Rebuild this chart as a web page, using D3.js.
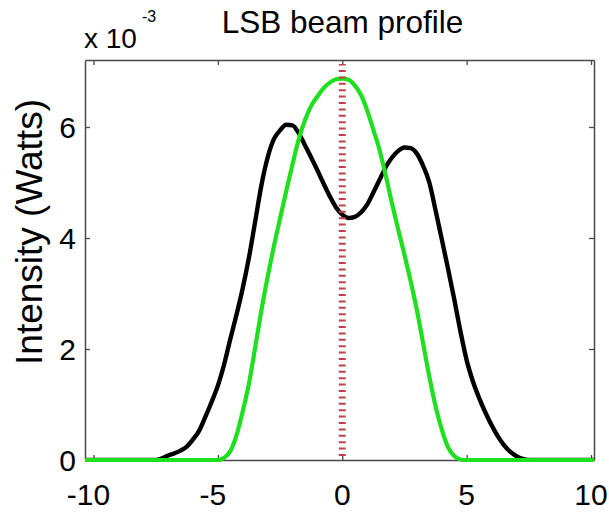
<!DOCTYPE html>
<html>
<head>
<meta charset="utf-8">
<script src="https://cdn.jsdelivr.net/npm/d3@7"></script>
<style>
  html, body { margin: 0; padding: 0; background: #fff; }
  svg { display: block; font-family: "Liberation Sans", Arial, sans-serif; }
</style>
</head>
<body>
<svg id="chart" width="609" height="512"></svg>
<script>
// Beam position samples (shared by both profiles)
const positions = [
  -10.5, -7.75,
  -7.5, -7.25, -7.0, -6.75, -6.5, -6.25, -6.0, -5.75, -5.5, -5.25,
  -5.0, -4.75, -4.5, -4.25, -4.0, -3.75, -3.5, -3.25, -3.0, -2.75,
  -2.5, -2.25, -2.0, -1.75, -1.5, -1.25, -1.0, -0.75, -0.5, -0.25,
  0.0, 0.25, 0.5, 0.75, 1.0, 1.25, 1.5, 1.75, 2.0, 2.25,
  2.5, 2.75, 3.0, 3.25, 3.5, 3.75, 4.0, 4.25, 4.5, 4.75,
  5.0, 5.25, 5.5, 5.75, 6.0, 6.25, 6.5, 6.75, 7.0, 7.25, 7.5,
  7.75, 10.5
];

// Measured profile, intensity in units of 1e-3 W
const measuredProfile = [
  0, 0,
  0.0, 0.03, 0.08, 0.12, 0.17, 0.24, 0.37, 0.53, 0.78, 1.05,
  1.34, 1.72, 2.18, 2.62, 3.10, 3.65, 4.30, 4.95, 5.45, 5.78,
  5.94, 6.04, 6.03, 5.89, 5.67, 5.45, 5.22, 4.98, 4.75, 4.55,
  4.42, 4.36, 4.38, 4.46, 4.60, 4.82, 5.05, 5.28, 5.45, 5.57,
  5.63, 5.62, 5.52, 5.30, 5.00, 4.50, 3.98, 3.45, 2.90, 2.32,
  1.80, 1.42, 1.12, 0.86, 0.63, 0.43, 0.27, 0.15, 0.07, 0.02, 0.0,
  0, 0
];

// Reference profile, intensity in units of 1e-3 W
const referenceProfile = [
  0, 0,
  0, 0, 0, 0, 0, 0, 0, 0, 0, 0,
  0, 0.04, 0.16, 0.45, 0.88, 1.38, 2.03, 2.70, 3.30, 3.85,
  4.35, 4.85, 5.33, 5.78, 6.12, 6.38, 6.55, 6.70, 6.80, 6.86,
  6.87, 6.85, 6.75, 6.58, 6.30, 5.95, 5.58, 5.12, 4.62, 4.15,
  3.70, 3.22, 2.70, 2.10, 1.50, 0.97, 0.55, 0.23, 0.07, 0.01,
  0, 0, 0, 0, 0, 0, 0, 0, 0, 0, 0,
  0, 0
];

// Beam centre marker
const centreX = [0];

const xTicks = [-10, -5, 0, 5, 10];
const yTicks = [0, 2, 4, 6];
const titleText = "LSB beam profile";
const yLabelText = "Intensity (Watts)";

const svg = d3.select("#chart");
const plotLeft = 85, plotRight = 594, plotTop = 60, plotBottom = 460;

const x = d3.scaleLinear().domain([-10.342, 10.12]).range([plotLeft, plotRight]);
const y = d3.scaleLinear().domain([0, 7.207]).range([plotBottom, plotTop]);

svg.append("rect").attr("width", 609).attr("height", 512).attr("fill", "#fff");

svg.append("defs").append("clipPath").attr("id", "plot-clip")
  .append("rect").attr("x", plotLeft).attr("y", plotTop - 2)
  .attr("width", plotRight - plotLeft).attr("height", plotBottom - plotTop + 4);

const axisColor = "#4a4a4a";

// Axes with inward ticks on all four sides
function styleAxis(g) {
  g.selectAll("path.domain").attr("stroke", axisColor).attr("stroke-width", 1.5);
  g.selectAll(".tick line").attr("stroke", axisColor).attr("stroke-width", 1.3);
  g.selectAll(".tick text").remove();
}
svg.append("g").attr("transform", `translate(0,${plotBottom})`)
  .call(d3.axisBottom(x).tickValues(xTicks).tickSizeInner(-5).tickSizeOuter(0).tickFormat(""))
  .call(styleAxis);
svg.append("g").attr("transform", `translate(0,${plotTop})`)
  .call(d3.axisTop(x).tickValues(xTicks).tickSizeInner(-5).tickSizeOuter(0).tickFormat(""))
  .call(styleAxis);
svg.append("g").attr("transform", `translate(${plotLeft},0)`)
  .call(d3.axisLeft(y).tickValues(yTicks).tickSizeInner(-5).tickSizeOuter(0).tickFormat(""))
  .call(styleAxis);
svg.append("g").attr("transform", `translate(${plotRight},0)`)
  .call(d3.axisRight(y).tickValues(yTicks).tickSizeInner(-5).tickSizeOuter(0).tickFormat(""))
  .call(styleAxis);

// Profiles
const plot = svg.append("g").attr("clip-path", "url(#plot-clip)");
const line = d3.line()
  .x((d, i) => x(positions[i]))
  .y(d => y(d))
  .curve(d3.curveMonotoneX);

plot.append("path").datum(measuredProfile)
  .attr("d", line).attr("fill", "none")
  .attr("stroke", "#000").attr("stroke-width", 4.4)
  .attr("stroke-linejoin", "round");

plot.append("path").datum(referenceProfile)
  .attr("d", line).attr("fill", "none")
  .attr("stroke", "#1fe01f").attr("stroke-width", 4.2)
  .attr("stroke-linejoin", "round");

// Dotted centre line
plot.selectAll("line.centre").data(centreX).join("line")
  .attr("class", "centre")
  .attr("x1", d => x(d)).attr("x2", d => x(d))
  .attr("y1", y(0) - 4).attr("y2", y.range()[1] + 4)
  .attr("stroke", "#c0434b").attr("stroke-width", 7)
  .attr("stroke-dasharray", "2,4.4");

// Tick labels: digits centred on the tick, minus sign hanging to the left
const fmt = v => (v < 0 ? "-" : "") + Math.abs(v);
const xLab = svg.append("g").attr("font-size", 30).attr("fill", "#000");
xLab.selectAll("text").data(xTicks).join("text")
  .attr("y", 505)
  .attr("text-anchor", "middle")
  .text(fmt)
  .each(function (d) {
    let shift = 0;
    if (d < 0) {
      const full = this.getComputedTextLength();
      this.textContent = String(Math.abs(d));
      const digits = this.getComputedTextLength();
      this.textContent = fmt(d);
      shift = (full - digits) / 2;
    }
    d3.select(this).attr("x", x(d) - shift);
  });

svg.append("g").attr("font-size", 30).attr("fill", "#000")
  .selectAll("text").data(yTicks).join("text")
  .attr("x", plotLeft - 9)
  .attr("y", d => y(d))
  .attr("dy", "0.36em")
  .attr("text-anchor", "end")
  .text(fmt);

// Exponent multiplier
svg.append("text").attr("x", 84).attr("y", 48).attr("font-size", 28).text("x 10");
svg.append("text").attr("x", 142).attr("y", 22).attr("font-size", 16).text("-3");

// Title
svg.append("text").attr("x", 342.5).attr("y", 33)
  .attr("text-anchor", "middle").attr("font-size", 31.5).text(titleText);

// Y axis label
svg.append("text")
  .attr("transform", `translate(42,${232}) rotate(-90)`)
  .attr("text-anchor", "middle").attr("font-size", 37).text(yLabelText);
</script>
</body>
</html>
